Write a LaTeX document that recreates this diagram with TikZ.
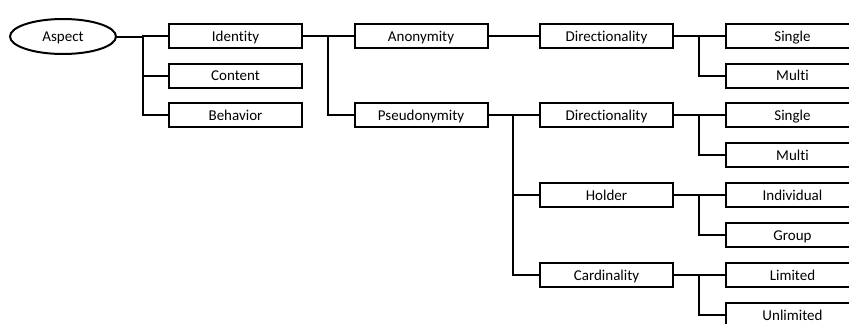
\documentclass[tikz,border=0pt]{standalone}
\usepackage{fontspec}
\setmainfont[Ligatures=NoCommon]{Carlito}
\begin{document}
\begin{tikzpicture}[x=1pt,y=-1pt,
  labelfont/.style={font=\fontsize{15}{17}\selectfont, text height=13pt, text depth=3pt},
  catbox/.style={draw=black, line width=2pt, rectangle, minimum width=133pt,
    minimum height=24pt, inner sep=0pt, labelfont},
  rootnode/.style={rectangle, minimum width=106pt, minimum height=35pt,
    inner sep=0pt, labelfont},
  rootrim/.style={draw=black, line width=2pt},
  link/.style={draw=black, line width=2pt}]
\useasboundingbox (0,0) rectangle (849,324);
\clip (0,0) rectangle (849,324);

% branch columns
\coordinate (b0) at (143,0);
\coordinate (b1) at (328,0);
\coordinate (b2) at (513,0);
\coordinate (b3) at (699,0);

% root: oval outline around the label
\node[rootnode] (aspect) at (63,36.5) {Aspect};
\path[rootrim] (aspect.center) ellipse [x radius=53pt, y radius=17.5pt];

\node[catbox] (identity) at (235.5,36) {Identity};
\node[catbox] (content)  at (235.5,75.5) {Content};
\node[catbox] (behavior) at (235.5,115) {Behavior};

\node[catbox] (anon)   at (421,36) {Anonymity};
\node[catbox] (pseudo) at (421,115) {Pseudonymity};

\node[catbox] (dirA)  at (606.5,36) {Directionality};
\node[catbox] (dirP)  at (606.5,115) {Directionality};
\node[catbox] (holder) at (606.5,195) {Holder};
\node[catbox] (card)  at (606.5,275) {Cardinality};

\node[catbox] (singleA) at (792.5,36) {Single};
\node[catbox] (multiA)  at (792.5,75.5) {Multi};
\node[catbox] (singleP) at (792.5,115) {Single};
\node[catbox] (multiP)  at (792.5,155) {Multi};
\node[catbox] (indiv)   at (792.5,195) {Individual};
\node[catbox] (group)   at (792.5,235) {Group};
\node[catbox] (limited) at (792.5,275) {Limited};
\node[catbox] (unlim)   at (792.5,315) {Unlimited};

% connectors
\foreach \c in {identity,content,behavior}
  \draw[link] (aspect.east) -- (aspect.east -| b0) |- (\c.west);
\foreach \c in {anon,pseudo}
  \draw[link] (identity.east) -- (identity.east -| b1) |- (\c.west);
\draw[link] (anon.east) -- (dirA.west);
\foreach \c in {dirP,holder,card}
  \draw[link] (pseudo.east) -- (pseudo.east -| b2) |- (\c.west);
\foreach \c in {singleA,multiA}
  \draw[link] (dirA.east) -- (dirA.east -| b3) |- (\c.west);
\foreach \c in {singleP,multiP}
  \draw[link] (dirP.east) -- (dirP.east -| b3) |- (\c.west);
\foreach \c in {indiv,group}
  \draw[link] (holder.east) -- (holder.east -| b3) |- (\c.west);
\foreach \c in {limited,unlim}
  \draw[link] (card.east) -- (card.east -| b3) |- (\c.west);
\end{tikzpicture}
\end{document}
